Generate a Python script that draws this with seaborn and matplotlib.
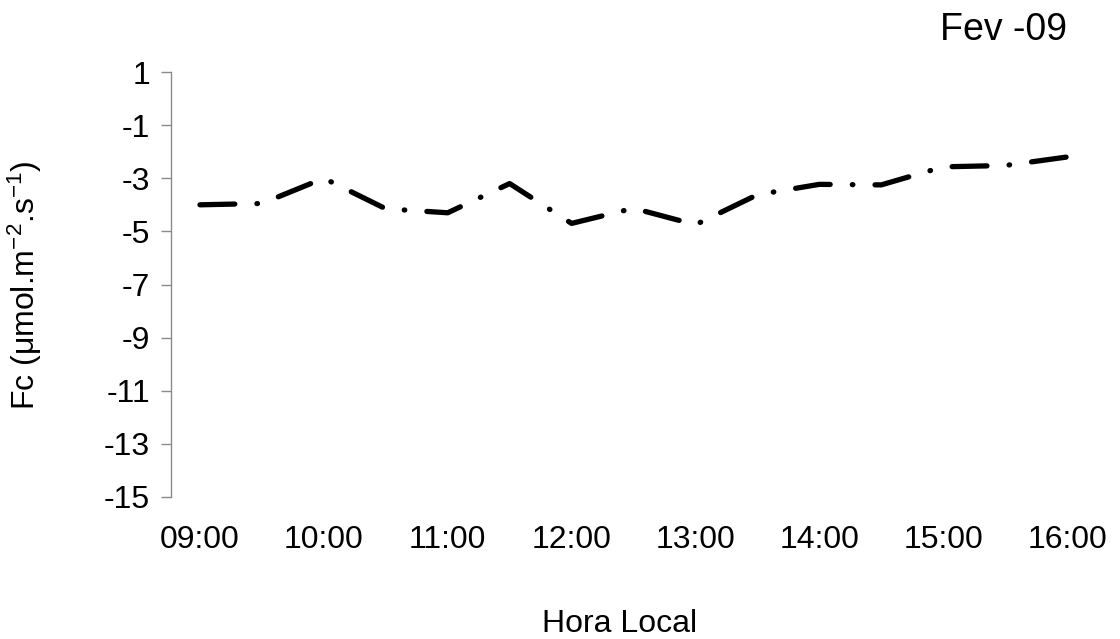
import matplotlib
matplotlib.use("Agg")
import matplotlib.pyplot as plt
import seaborn as sns
import pandas as pd

hours = [9.0, 9.5, 10.0, 10.5, 11.0, 11.5, 12.0, 12.5, 13.0, 13.5, 14.0, 14.5, 15.0, 15.5, 16.0]
fc = [-4.0, -3.95, -3.0, -4.15, -4.3, -3.2, -4.7, -4.13, -4.75, -3.62, -3.23, -3.25, -2.57, -2.52, -2.2]
tick_hours = [9, 10, 11, 12, 13, 14, 15, 16]
tick_labels = ["09:00", "10:00", "11:00", "12:00", "13:00", "14:00", "15:00", "16:00"]
y_ticks = [1, -1, -3, -5, -7, -9, -11, -13, -15]

sns.set_style("white")
plt.rcParams["font.family"] = ["Liberation Sans", "DejaVu Sans"]
plt.rcParams["mathtext.fontset"] = "custom"
plt.rcParams["mathtext.rm"] = "Liberation Sans"
plt.rcParams["mathtext.it"] = "Liberation Sans:italic"
plt.rcParams["mathtext.default"] = "regular"
plt.rcParams["text.color"] = "black"
plt.rcParams["axes.unicode_minus"] = False

df = pd.DataFrame({"hora": hours, "fc": fc})

fig = plt.figure(figsize=(11.2, 6.39), dpi=100)
ax = fig.add_axes([171/1120, 1-497/639, (1096-171)/1120, (497-72)/639])

sns.lineplot(data=df, x="hora", y="fc", ax=ax, color="black", linewidth=3.8,
             linestyle=(0, (6.6, 4.2, 0.1, 4.2)), dash_capstyle="round",
             solid_capstyle="round")

ax.set_xlim(9 - 29/124, 16 + 29/124)
ax.set_ylim(-15, 1)
ax.set_yticks(y_ticks)
ax.set_yticklabels([str(v) for v in y_ticks])
ax.set_xticks(tick_hours)
ax.set_xticklabels(tick_labels)

for s in ["top", "right", "bottom"]:
    ax.spines[s].set_visible(False)
ax.spines["left"].set_color("#8a8a8a")
ax.spines["left"].set_linewidth(1.0)

ax.tick_params(axis="y", which="both", left=True, length=7, width=1.0, color="#8a8a8a",
               pad=8, labelsize=23, labelcolor="black")
ax.tick_params(axis="x", which="both", bottom=False, length=0, pad=20, labelsize=23,
               labelcolor="black")

ax.set_xlabel("")
ax.set_ylabel("")
fig.text(25/1120, 1-285/639, r"Fc ($\mu$mol.m$^{-2}$.s$^{-1}$)", rotation=90,
         ha="center", va="center", fontsize=23, color="black")
fig.text(620/1120, 1-624/639, "Hora Local", ha="center", va="center", fontsize=23,
         color="black")
fig.text(1003/1120, 1-30/639, "Fev -09", ha="center", va="center", fontsize=27,
         color="black")

fig.savefig("out.png", dpi=100, facecolor="white")
